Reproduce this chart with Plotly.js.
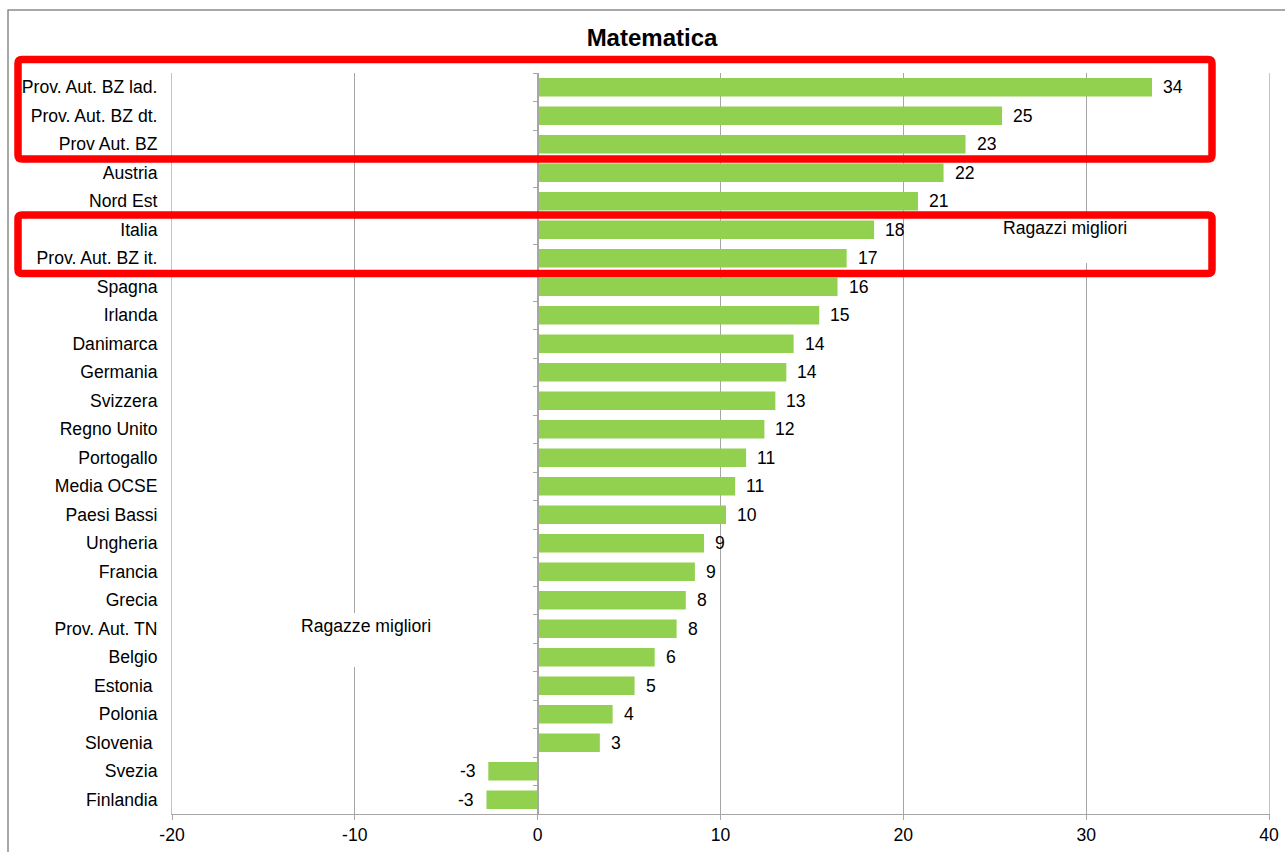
<!DOCTYPE html>
<html>
<head>
<meta charset="utf-8">
<script src="https://cdn.plot.ly/plotly-3.0.1.min.js"></script>
<style>
  html, body { margin: 0; padding: 0; background: #ffffff; }
  #chart { width: 1285px; height: 852px; }
</style>
</head>
<body>
<div id="chart"></div>
<script>
// Gender gap in mathematics (boys minus girls), by country / area
const categories = [
  "Prov. Aut. BZ lad.", "Prov. Aut. BZ dt.", "Prov Aut. BZ", "Austria", "Nord Est",
  "Italia", "Prov. Aut. BZ it.", "Spagna", "Irlanda", "Danimarca", "Germania",
  "Svizzera", "Regno Unito", "Portogallo", "Media OCSE", "Paesi Bassi", "Ungheria",
  "Francia", "Grecia", "Prov. Aut. TN", "Belgio", "Estonia\u00a0", "Polonia",
  "Slovenia\u00a0", "Svezia", "Finlandia"
];
const differences = [
  33.6, 25.4, 23.4, 22.2, 20.8,
  18.4, 16.9, 16.4, 15.4, 14.0, 13.6,
  13.0, 12.4, 11.4, 10.8, 10.3, 9.1,
  8.6, 8.1, 7.6, 6.4, 5.3, 4.1,
  3.4, -2.7, -2.8
];
const xTicks = [-20, -10, 0, 10, 20, 30, 40];
const chartTitle = "Matematica";
const boysNote = "Ragazzi migliori";
const girlsNote = "Ragazze migliori";

// page geometry (pixels) of the plotting area
const W = 1285, H = 852;
const PL = 172, PR = 1269, PT = 73, PB = 814;
const px = v => (v - PL) / (PR - PL);
const py = v => (PB - v) / (PB - PT);

const FONT = "Arial, 'Liberation Sans', sans-serif";
const FS = 17.6;
const GRID = "#a6a6a6";
const EDGE = "#c4c4c4";

// rounded rectangle outline, given in page pixels, expressed in paper units
function roundedRect(x0, y0, x1, y1, r) {
  const X = v => px(v).toFixed(5), Y = v => py(v).toFixed(5);
  return "M" + X(x0 + r) + "," + Y(y0) +
    " L" + X(x1 - r) + "," + Y(y0) +
    " Q" + X(x1) + "," + Y(y0) + " " + X(x1) + "," + Y(y0 + r) +
    " L" + X(x1) + "," + Y(y1 - r) +
    " Q" + X(x1) + "," + Y(y1) + " " + X(x1 - r) + "," + Y(y1) +
    " L" + X(x0 + r) + "," + Y(y1) +
    " Q" + X(x0) + "," + Y(y1) + " " + X(x0) + "," + Y(y1 - r) +
    " L" + X(x0) + "," + Y(y0 + r) +
    " Q" + X(x0) + "," + Y(y0) + " " + X(x0 + r) + "," + Y(y0) + " Z";
}

const bars = {
  type: "bar",
  orientation: "h",
  x: differences,
  y: categories,
  marker: { color: "#92D050", line: { width: 0 } },
  hoverinfo: "x+y",
  showlegend: false
};

// carrier for the axis line with boundary ticks drawn at x = 0
const axisCarrier = {
  type: "scatter",
  mode: "markers",
  x: differences,
  y: categories,
  yaxis: "y2",
  marker: { opacity: 0, size: 1 },
  hoverinfo: "skip",
  showlegend: false
};

const valueLabels = differences.map((v, i) => ({
  x: v,
  y: categories[i],
  xref: "x",
  yref: "y",
  text: String(Math.round(v)),
  showarrow: false,
  xanchor: v >= 0 ? "left" : "right",
  xshift: v >= 0 ? 9 : -10,
  yanchor: "middle",
  font: { family: FONT, size: FS, color: "#000000" }
}));

const notes = [
  { text: boysNote, x: px(1065), y: py(228) },
  { text: girlsNote, x: px(366), y: py(626) }
].map(n => ({
  x: n.x, y: n.y, xref: "paper", yref: "paper",
  text: n.text, showarrow: false, xanchor: "center", yanchor: "middle",
  font: { family: FONT, size: FS, color: "#000000" }
}));

const shapes = [
  // outer chart frame
  { type: "rect", xref: "paper", yref: "paper",
    x0: px(8), x1: px(1300), y0: py(10), y1: py(870),
    line: { color: "#8c8c8c", width: 1.5 }, fillcolor: "rgba(0,0,0,0)", layer: "above" },
  // white text boxes behind the notes
  { type: "rect", xref: "paper", yref: "paper",
    x0: px(992), x1: px(1138), y0: py(218), y1: py(263),
    line: { width: 0 }, fillcolor: "#ffffff", layer: "above" },
  { type: "rect", xref: "paper", yref: "paper",
    x0: px(292), x1: px(440), y0: py(613), y1: py(667),
    line: { width: 0 }, fillcolor: "#ffffff", layer: "above" },
  // red highlight frames
  { type: "path", xref: "paper", yref: "paper",
    path: roundedRect(18, 59.5, 1212, 159, 4),
    line: { color: "#ff0000", width: 7.5 }, fillcolor: "rgba(0,0,0,0)", layer: "above" },
  { type: "path", xref: "paper", yref: "paper",
    path: roundedRect(18, 215, 1212, 273.5, 4),
    line: { color: "#ff0000", width: 7.5 }, fillcolor: "rgba(0,0,0,0)", layer: "above" }
];

const layout = {
  width: W,
  height: H,
  margin: { l: PL, r: W - PR, t: PT, b: H - PB, pad: 0 },
  paper_bgcolor: "#ffffff",
  plot_bgcolor: "#ffffff",
  font: { family: FONT, size: FS, color: "#000000" },
  title: {
    text: chartTitle,
    font: { family: FONT, size: 24, color: "#000000", weight: "bold" },
    xref: "container", yref: "container",
    x: 652 / W, y: 1 - 38 / H, xanchor: "center", yanchor: "middle"
  },
  bargap: 0.35,
  showlegend: false,
  xaxis: {
    range: [-20, 40],
    tickvals: xTicks,
    ticktext: xTicks.map(String),
    ticks: "outside",
    ticklen: 5,
    tickcolor: GRID,
    showgrid: true,
    gridcolor: GRID,
    gridwidth: 1,
    zeroline: true,
    zerolinecolor: GRID,
    zerolinewidth: 1,
    showline: true,
    linecolor: GRID,
    linewidth: 1,
    tickfont: { family: FONT, size: FS, color: "#000000" },
    fixedrange: true
  },
  yaxis: {
    type: "category",
    categoryorder: "array",
    categoryarray: categories,
    range: [categories.length - 0.5, -0.5],
    ticks: "",
    showline: true,
    mirror: true,
    linecolor: EDGE,
    linewidth: 1,
    showgrid: false,
    zeroline: false,
    ticklabelstandoff: 10,
    tickfont: { family: FONT, size: FS, color: "#000000" },
    fixedrange: true
  },
  yaxis2: {
    type: "category",
    categoryorder: "array",
    categoryarray: categories,
    range: [categories.length - 0.5, -0.5],
    overlaying: "y",
    anchor: "free",
    position: 1 / 3,
    side: "left",
    showline: true,
    linecolor: GRID,
    linewidth: 1,
    ticks: "outside",
    tickson: "boundaries",
    ticklen: 5,
    tickcolor: GRID,
    showticklabels: false,
    showgrid: false,
    zeroline: false,
    fixedrange: true
  },
  annotations: valueLabels.concat(notes),
  shapes: shapes
};

Plotly.newPlot("chart", [bars, axisCarrier], layout, { displayModeBar: false, staticPlot: true });
</script>
</body>
</html>
